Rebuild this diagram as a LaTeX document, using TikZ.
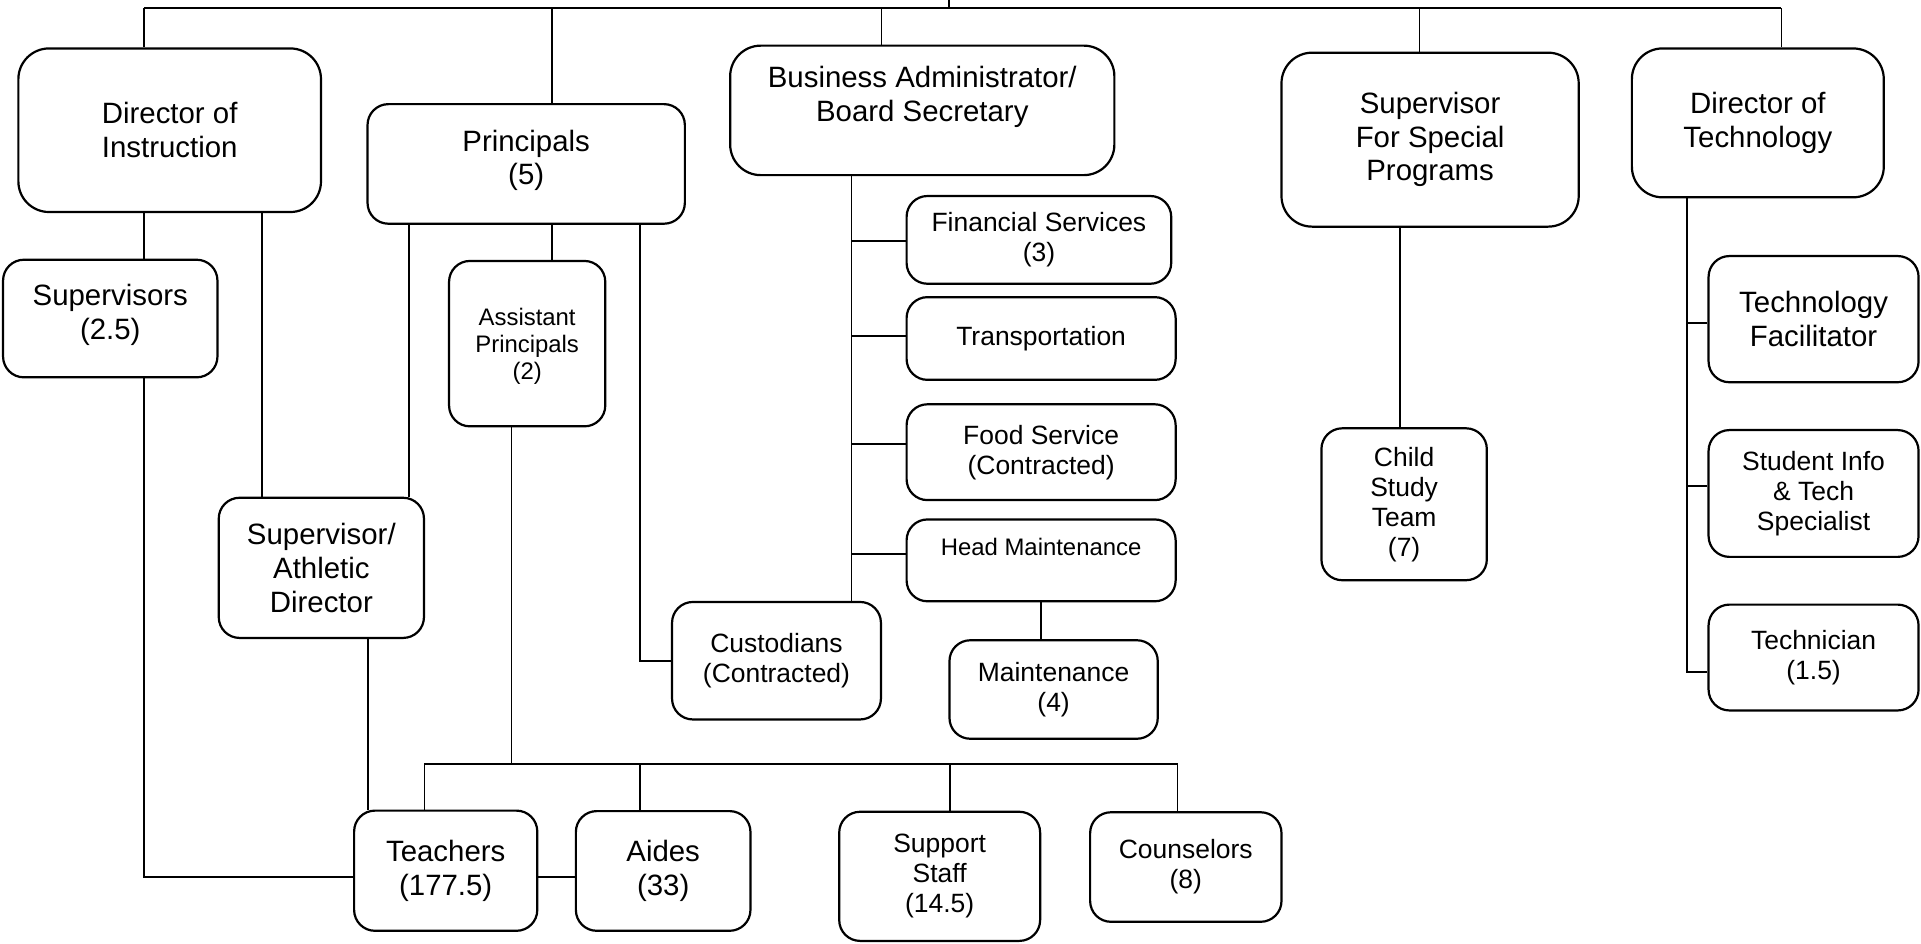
\documentclass[tikz,border=0pt]{standalone}
\usepackage{fontspec}
\setmainfont{Liberation Sans}

\begin{document}
\begin{tikzpicture}[x=1pt,y=-1pt,
    orgbox/.style={draw,line width=1.8pt,rounded corners=17pt,align=center,inner sep=0pt},
    bigr/.style={rounded corners=25pt},
    sz/.style 2 args={minimum width=#1pt,minimum height=#2pt},
    bigtxt/.style={font=\fontsize{24}{27.5}\selectfont},
    midtxt/.style={font=\fontsize{21.6}{24.5}\selectfont},
    smalltxt/.style={font=\fontsize{19.5}{22}\selectfont},
    link/.style={line width=1.4pt}]
        \useasboundingbox (0,0) rectangle (1568,770);
        %顶层
        \node[orgbox,bigtxt,bigr,sz={247}{133.5}] (doi) at (138.5,106.3) {Director of\\Instruction};
        \node[orgbox,bigtxt,sz={259}{97.6}] (prin) at (429.5,133.8) {Principals\\(5)\\[-17pt]\mbox{}};
        \node[orgbox,bigtxt,bigr,sz={313.6}{105.7}] (busadm) at (752.8,90.1) {Business Administrator/\\Board Secretary\\\mbox{}};
        \node[orgbox,bigtxt,bigr,sz={242.6}{142}] (specprog) at (1167.3,114) {Supervisor\\For Special\\Programs};
        \node[orgbox,bigtxt,bigr,sz={205.6}{121.5}] (dirtech) at (1434.8,100.3) {Director of\\Technology};
        %中层
        \node[orgbox,bigtxt,sz={175}{96}] (supv) at (90,260) {Supervisors\\(2.5)\\[-17pt]\mbox{}};
        \node[orgbox,smalltxt,sz={127.5}{135}] (asstprin) at (430.3,280.5) {\mbox{}\\[-4pt]Assistant\\Principals\\(2)};
        \node[orgbox,bigtxt,sz={167.5}{114.4}] (athdir) at (262.3,463.5) {Supervisor/\\Athletic\\Director};
        \node[orgbox,midtxt,sz={170.5}{95.9}] (custod) at (633.8,539.3) {Custodians\\(Contracted)};
        \node[orgbox,midtxt,sz={216}{71.6}] (finserv) at (848,195.8) {Financial Services\\(3)};
        \node[orgbox,midtxt,sz={219.6}{67.5}] (transp) at (849.8,276.3) {Transportation};
        \node[orgbox,midtxt,sz={219.6}{78.2}] (food) at (849.8,369.1) {Food Service\\(Contracted)};
        \node[orgbox,smalltxt,sz={219.6}{66.8}] (headmnt) at (849.8,457.4) {Head Maintenance\\\mbox{}};
        \node[orgbox,midtxt,sz={170}{80.4}] (mnt) at (860,562.8) {Maintenance\\(4)};
        \node[orgbox,midtxt,sz={135}{124}] (cst) at (1146.1,411.6) {Child\\Study\\Team\\(7)};
        \node[orgbox,bigtxt,sz={171.4}{103}] (techfac) at (1480.3,260.5) {Technology\\Facilitator};
        \node[orgbox,midtxt,sz={171.4}{103.5}] (studinfo) at (1480.3,402.8) {Student Info\\\& Tech\\Specialist};
        \node[orgbox,midtxt,sz={171.4}{86.4}] (techn) at (1480.3,536.7) {Technician\\(1.5)};
        %底层
        \node[orgbox,bigtxt,sz={149.5}{98.1}] (teach) at (363.8,710.7) {Teachers\\(177.5)};
        \node[orgbox,bigtxt,sz={142.5}{97.7}] (aides) at (541.3,710.9) {Aides\\(33)};
        \node[orgbox,midtxt,sz={164}{105.4}] (suppstaff) at (767,715.3) {Support\\Staff\\(14.5)};
        \node[orgbox,midtxt,sz={156.2}{89.4}] (counsel) at (967.9,707.7) {Counselors\\(8)};
        %顶线
        \coordinate (topL) at (117.5,6.6);
        \coordinate (topR) at (1454,6.6);
        \coordinate (topin) at (774.6,0);
        \draw[link] (topL) -- (topR);
        \draw[link] (topin) -- (topin |- topL);
        \draw[link] (topL) -- (topL |- doi.north);
        \draw[link] ([xshift=21pt]prin.north) -- ([xshift=21pt]prin.north |- topL);
        \draw[link] ([xshift=-33.3pt]busadm.north) -- ([xshift=-33.3pt]busadm.north |- topL);
        \draw[link] ([xshift=-8.7pt]specprog.north) -- ([xshift=-8.7pt]specprog.north |- topL);
        \draw[link] (topR) -- (topR |- dirtech.north);
        %教学
        \draw[link] (topL |- doi.south) -- (topL |- supv.north);
        \draw[link] (topL |- supv.south) |- ([yshift=-5pt]teach.west);
        \draw[link] ([xshift=-48.3pt]athdir.north) -- ([xshift=-48.3pt]athdir.north |- doi.south);
        \draw[link] ([xshift=-95.5pt]prin.south) -- ([xshift=-95.5pt]prin.south |- athdir.north);
        \draw[link] ([xshift=21pt]prin.south) -- ([xshift=21pt]prin.south |- asstprin.north);
        \draw[link] ([xshift=93pt]prin.south) |- (custod.west);
        \draw[link] ([xshift=38.3pt]athdir.south) -- ([xshift=38.3pt]athdir.south |- teach.north);
        \coordinate (lowbar) at (417.5,623.8);
        \draw[link] ([xshift=-12.8pt]asstprin.south) -- (lowbar);
        \draw[link] ([xshift=-17.3pt]teach.north) |- (lowbar) -| ([xshift=-6.9pt]counsel.north);
        \draw[link] ([xshift=-18.8pt]aides.north) -- ([xshift=-18.8pt]aides.north |- lowbar);
        \draw[link] ([xshift=8.5pt]suppstaff.north) -- ([xshift=8.5pt]suppstaff.north |- lowbar);
        \draw[link] ([yshift=-5pt]teach.east) -- ([yshift=-5pt]teach.east -| aides.west);
        %业务
        \coordinate (busline) at ([xshift=-57.8pt]busadm.south);
        \draw[link] (busline) -- (busline |- custod.north);
        \foreach \n/\dy in {finserv/-1.2,transp/2.3,food/6.7,headmnt/5.1}
            \draw[link] ([yshift=\dy pt]\n.west) -- ([yshift=\dy pt]\n.west -| busline);
        \draw[link] (headmnt.south) -- (headmnt.south |- mnt.north);
        %特殊项目
        \draw[link] ([xshift=-24.7pt]specprog.south) -- ([xshift=-24.7pt]specprog.south |- cst.north);
        %技术
        \coordinate (techline) at ([xshift=-57.8pt]dirtech.south);
        \draw[link] (techline) |- ([yshift=-11.8pt]techn.west);
        \draw[link] ([yshift=-3.3pt]techfac.west) -- ([yshift=-3.3pt]techfac.west -| techline);
        \draw[link] ([yshift=6pt]studinfo.west) -- ([yshift=6pt]studinfo.west -| techline);
\end{tikzpicture}
\end{document}
